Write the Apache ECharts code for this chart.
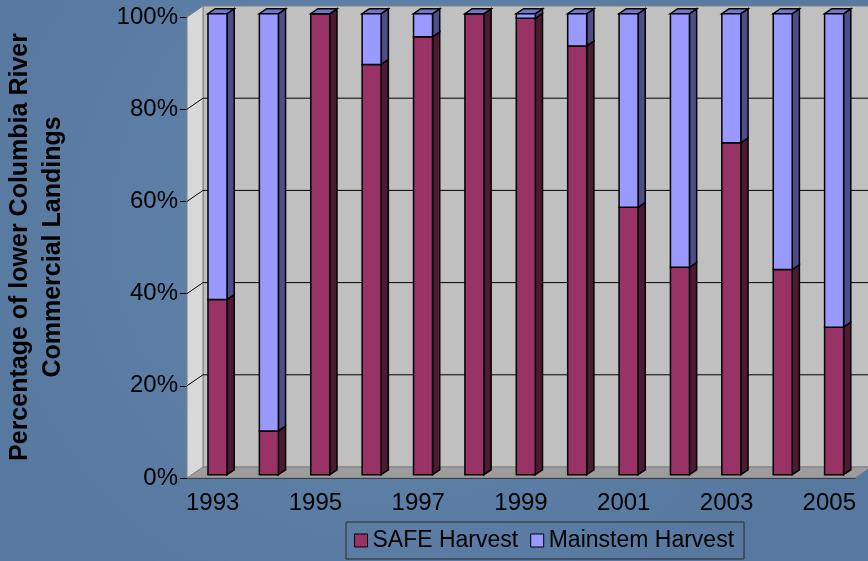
<!DOCTYPE html>
<html>
<head>
<meta charset="utf-8">
<style>
  html, body { margin: 0; padding: 0; background: #5c7fa7; }
  #chart { width: 868px; height: 561px; }
</style>
<script src="https://cdn.jsdelivr.net/npm/echarts@6/dist/echarts.min.js"></script>
</head>
<body>
<div id="chart"></div>
<script>
// values (percent of landings)
const years = ['1993', '1994', '1995', '1996', '1997', '1998', '1999', '2000', '2001', '2002', '2003', '2004', '2005'];
const safeHarvest = [38, 9.5, 100, 89, 95, 100, 99, 93, 58, 45, 72, 44.5, 32];
const mainstemHarvest = [62, 90.5, 0, 11, 5, 0, 1, 7, 42, 55, 28, 55.5, 68];
const yTicks = [0, 20, 40, 60, 80, 100];

const FONT = "'Liberation Sans', Arial, sans-serif";
const DEPTH = [16, -11];      // offset of the back wall
const FRONT = 0.3, BACK = 0.75; // where the bars sit inside the box
const BAR_W = 0.37;

const chart = echarts.init(document.getElementById('chart'));

function barRenderer(face, side, top) {
    return function (params, api) {
        const i = api.value(0), lo = api.value(1), hi = api.value(2);
        const w = api.size([1, 0])[0] * BAR_W;
        const b = api.coord([i, lo]);
        const t = api.coord([i, hi]);
        const fx = DEPTH[0] * FRONT, fy = DEPTH[1] * FRONT;
        const dx = DEPTH[0] * (BACK - FRONT), dy = DEPTH[1] * (BACK - FRONT);
        const x1 = b[0] - w / 2 + fx, x2 = b[0] + w / 2 + fx;
        const yb = b[1] + fy, yt = t[1] + fy;
        const line = { stroke: '#000', lineWidth: 1.5 };
        const children = [
            { type: 'polygon', shape: { points: [[x2, yb], [x2 + dx, yb + dy], [x2 + dx, yt + dy], [x2, yt]] }, style: Object.assign({ fill: side }, line) }
        ];
        if (top) {
            children.push({ type: 'polygon', shape: { points: [[x1, yt], [x2, yt], [x2 + dx, yt + dy], [x1 + dx, yt + dy]] }, style: Object.assign({ fill: top }, line) });
        }
        children.push({ type: 'rect', shape: { x: x1, y: yt, width: w, height: yb - yt }, style: Object.assign({ fill: face }, line) });
        return { type: 'group', children: children };
    };
}

function wallRenderer(params, api) {
    const half = api.size([1, 0])[0] / 2;
    const x0 = api.coord([0, 0])[0] - half;
    const x1 = api.coord([years.length - 1, 0])[0] + half;
    const y0 = api.coord([0, 0])[1];
    const y100 = api.coord([0, 100])[1];
    const [dx, dy] = DEPTH;
    const edge = { stroke: '#808080', lineWidth: 1 };
    const children = [
        { type: 'rect', shape: { x: x0 + dx, y: y100 + dy, width: x1 - x0 + 20, height: y0 - y100 }, style: Object.assign({ fill: '#c0c0c0' }, edge) },
        { type: 'polygon', shape: { points: [[x0, y0], [x0 + dx, y0 + dy], [x1 + dx, y0 + dy], [x1, y0]] }, style: Object.assign({ fill: '#9c9c9c' }, edge) },
        { type: 'polygon', shape: { points: [[x0, y100], [x0 + dx, y100 + dy], [x0 + dx, y0 + dy], [x0, y0]] }, style: Object.assign({ fill: '#d8d8d8' }, edge) }
    ];
    yTicks.forEach(v => {
        if (v === 0 || v === 100) return;
        const yv = api.coord([0, v])[1];
        children.push({ type: 'polyline', shape: { points: [[x0, yv], [x0 + dx, yv + dy], [x1 + dx + 20, yv + dy]] }, style: { stroke: '#000', lineWidth: 1, fill: null } });
    });
    return { type: 'group', children: children };
}

const options = {
    backgroundColor: {
        type: 'radial', x: 0.45, y: 0.4, r: 0.8,
        colorStops: [{ offset: 0, color: '#6285ae' }, { offset: 1, color: '#57799f' }]
    },
    animation: false,
    textStyle: { fontFamily: FONT },
    graphic: [{
        type: 'text',
        x: 37, y: 247,
        rotation: Math.PI / 2,
        style: {
            text: 'Percentage of lower Columbia River\nCommercial Landings',
            font: 'bold 25px ' + FONT,
            fill: '#000',
            align: 'center',
            verticalAlign: 'middle',
            lineHeight: 33
        }
    }],
    legend: {
        left: 346, top: 522,
        padding: [7, 10, 7, 8],
        borderColor: '#2a2a2a', borderWidth: 1,
        icon: 'rect', itemWidth: 13, itemHeight: 13, itemGap: 12,
        textStyle: { fontSize: 23, color: '#000', fontFamily: FONT },
        data: [
            { name: 'SAFE Harvest', itemStyle: { color: '#993366', borderColor: '#000', borderWidth: 1 } },
            { name: 'Mainstem Harvest', itemStyle: { color: '#9999ff', borderColor: '#000', borderWidth: 1 } }
        ]
    },
    grid: { left: 187, right: 13, top: 17, bottom: 83 },
    xAxis: {
        type: 'category',
        data: years,
        axisLine: { lineStyle: { color: '#000' } },
        axisTick: { interval: 0, length: 6, lineStyle: { color: '#000' } },
        axisLabel: { interval: 1, fontSize: 24, color: '#000', margin: 13, fontFamily: FONT },
        splitLine: { show: false }
    },
    yAxis: {
        type: 'value',
        min: 0, max: 100, interval: 20,
        axisLine: { show: true, lineStyle: { color: '#808080' } },
        axisTick: { show: true, length: 7, lineStyle: { color: '#000' } },
        axisLabel: { formatter: '{value}%', fontSize: 24, color: '#000', margin: 9, fontFamily: FONT },
        splitLine: { show: false }
    },
    series: [
        {
            name: 'walls', type: 'custom', z: 1, silent: true,
            renderItem: wallRenderer,
            encode: { x: 0, y: 1 },
            data: [[0, 0]]
        },
        {
            name: 'SAFE Harvest', type: 'custom', z: 2,
            itemStyle: { color: '#993366' },
            renderItem: barRenderer('#993366', '#4d1a33', null),
            encode: { x: 0, y: [1, 2] },
            data: safeHarvest.map((v, i) => [i, 0, v])
        },
        {
            name: 'Mainstem Harvest', type: 'custom', z: 3,
            itemStyle: { color: '#9999ff' },
            renderItem: barRenderer('#9999ff', '#4d4d88', '#7474cc'),
            encode: { x: 0, y: [1, 2] },
            data: mainstemHarvest.map((v, i) => [i, safeHarvest[i], safeHarvest[i] + v])
        }
    ]
};

chart.setOption(options);
</script>
</body>
</html>
